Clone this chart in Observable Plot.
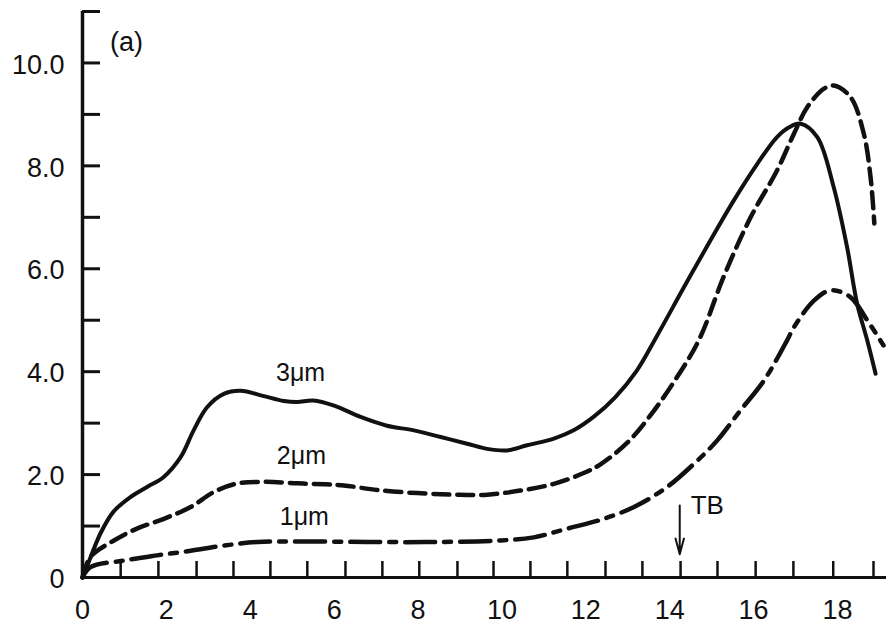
<!DOCTYPE html>
<html><head><meta charset="utf-8">
<script src="https://cdn.jsdelivr.net/npm/d3@7"></script>
<script src="https://cdn.jsdelivr.net/npm/@observablehq/plot@0.6"></script>
<style>body{margin:0;background:#fff} #chart svg{display:block}</style>
</head><body><div id="chart"></div>
<script>
// 3 µm curve (solid)
const x3 = [0, 0.11, 0.43, 0.74, 1.14, 1.54, 1.93, 2.34, 2.65, 2.97, 3.37, 3.77, 4.3, 4.8, 5.12, 5.5, 6.0, 6.63, 7.26, 7.9, 8.54, 9.17, 9.65, 10.13, 10.6, 11.24, 11.71, 12.2, 12.7, 13.2, 13.7, 14.34, 14.97, 15.53, 16.09, 16.56, 16.85, 17.12, 17.52, 17.91, 18.23, 18.47, 18.71, 18.91];
const y3 = [0, 0.22, 0.86, 1.28, 1.56, 1.76, 1.95, 2.34, 2.86, 3.31, 3.57, 3.63, 3.53, 3.43, 3.41, 3.44, 3.34, 3.12, 2.95, 2.86, 2.73, 2.6, 2.5, 2.47, 2.57, 2.7, 2.86, 3.13, 3.5, 4.0, 4.7, 5.64, 6.55, 7.33, 8.04, 8.56, 8.75, 8.82, 8.56, 7.59, 6.42, 5.32, 4.61, 3.96];
// 2 µm curve (dashed)
const x2 = [0, 0.19, 0.75, 1.3, 1.94, 2.58, 3.13, 3.65, 4.35, 5.12, 5.8, 6.23, 7.03, 7.98, 8.85, 9.65, 10.44, 11.24, 11.95, 12.35, 12.99, 13.54, 14.1, 14.7, 15.29, 15.93, 16.56, 16.96, 17.28, 17.68, 17.91, 18.31, 18.63, 18.79, 18.88];
const y2 = [0, 0.4, 0.72, 0.95, 1.14, 1.37, 1.66, 1.82, 1.86, 1.83, 1.81, 1.79, 1.7, 1.64, 1.61, 1.61, 1.69, 1.82, 2.03, 2.2, 2.62, 3.15, 3.8, 4.62, 5.85, 7.0, 7.91, 8.62, 9.14, 9.5, 9.56, 9.34, 8.62, 7.78, 6.88];
// 1 µm curve (dash-dot)
const x1 = [0, 0.19, 0.98, 1.78, 2.58, 3.37, 4.17, 5.2, 6.79, 8.38, 9.97, 10.76, 11.56, 12.35, 13.15, 13.94, 14.58, 15.13, 15.69, 16.25, 16.8, 16.96, 17.44, 17.84, 18.31, 18.71, 19.1];
const y1 = [0, 0.2, 0.33, 0.43, 0.52, 0.62, 0.69, 0.7, 0.69, 0.69, 0.72, 0.78, 0.95, 1.12, 1.37, 1.76, 2.21, 2.66, 3.25, 3.83, 4.61, 4.86, 5.38, 5.58, 5.45, 5.0, 4.51];

const xTickLabels = [0, 2, 4, 6, 8, 10, 12, 14, 16, 18];
const yTickLabels = [0, 2, 4, 6, 8, 10];
const yMinorTicks = [1, 2, 3, 4, 5, 6, 7, 8, 9, 10, 11];
const xMinorTicks = [0.91, 1.81, 2.72, 3.6, 4.48, 5.36, 6.27, 7.15, 8.03, 8.94, 9.8, 10.68, 11.56, 12.47, 13.35, 14.26, 15.14, 16.05, 16.95, 17.9, 18.86];

const curveLabels = [
  {text: "3μm", x: 5.2, y: 3.98},
  {text: "2μm", x: 5.22, y: 2.37},
  {text: "1μm", x: 5.29, y: 1.17}
];
const panelLabel = [{text: "(a)", x: 1.05, y: 10.4}];
const tbLabel = [{text: "TB", x: 14.5, y: 1.39}];
const tbArrow = [{x: 14.24, y1: 1.4, y2: 0.45}];

const pts = (xs, ys) => xs.map((x, i) => ({x, y: ys[i]}));

const W = 886, H = 628, mL = 82, mR = 0, mT = 11, mB = 51;
const plotW = W - mL - mR, plotH = H - mT - mB;
const font = '"Liberation Sans", Arial, sans-serif';

const chart = Plot.plot({
  width: W, height: H,
  marginLeft: mL, marginRight: mR, marginTop: mT, marginBottom: mB,
  style: {fontFamily: font, background: "white", color: "#111"},
  x: {domain: [0, 19.17]},
  y: {domain: [0, 11]},
  marks: [
    Plot.axisX(xTickLabels, {tickSize: 0, tickPadding: 22, fontSize: 27, label: null, tickFormat: d => String(d)}),
    Plot.axisY(yTickLabels, {tickSize: 0, tickPadding: 18, fontSize: 27, label: null, dy: 2, tickFormat: d => d === 0 ? "0" : d.toFixed(1)}),
    Plot.tickX(xMinorTicks, {x: d => d, insetTop: plotH - 16, strokeWidth: 2.5, stroke: "#111"}),
    Plot.tickY(yMinorTicks, {y: d => d, insetRight: plotW - 18, strokeWidth: 3, stroke: "#111"}),
    Plot.ruleX([0], {strokeWidth: 3.5, stroke: "#111"}),
    Plot.ruleY([0], {strokeWidth: 3, stroke: "#111"}),
    Plot.line(pts(x3, y3), {x: "x", y: "y", curve: "catmull-rom", stroke: "#111", strokeWidth: 4}),
    Plot.line(pts(x2, y2), {x: "x", y: "y", curve: "catmull-rom", stroke: "#111", strokeWidth: 4.5, strokeDasharray: "16,8"}),
    Plot.line(pts(x1, y1), {x: "x", y: "y", curve: "catmull-rom", stroke: "#111", strokeWidth: 4.5, strokeDasharray: "30,9,7,9"}),
    Plot.text(curveLabels, {x: "x", y: "y", text: "text", fontSize: 25, fill: "#111"}),
    Plot.text(panelLabel, {x: "x", y: "y", text: "text", fontSize: 27, fill: "#111"}),
    Plot.text(tbLabel, {x: "x", y: "y", text: "text", fontSize: 26, textAnchor: "start", fill: "#111"}),
    Plot.arrow(tbArrow, {x1: "x", x2: "x", y1: "y1", y2: "y2", stroke: "#111", strokeWidth: 2, headLength: 14, headAngle: 30})
  ]
});
document.getElementById("chart").appendChild(chart);
</script>
</body></html>
